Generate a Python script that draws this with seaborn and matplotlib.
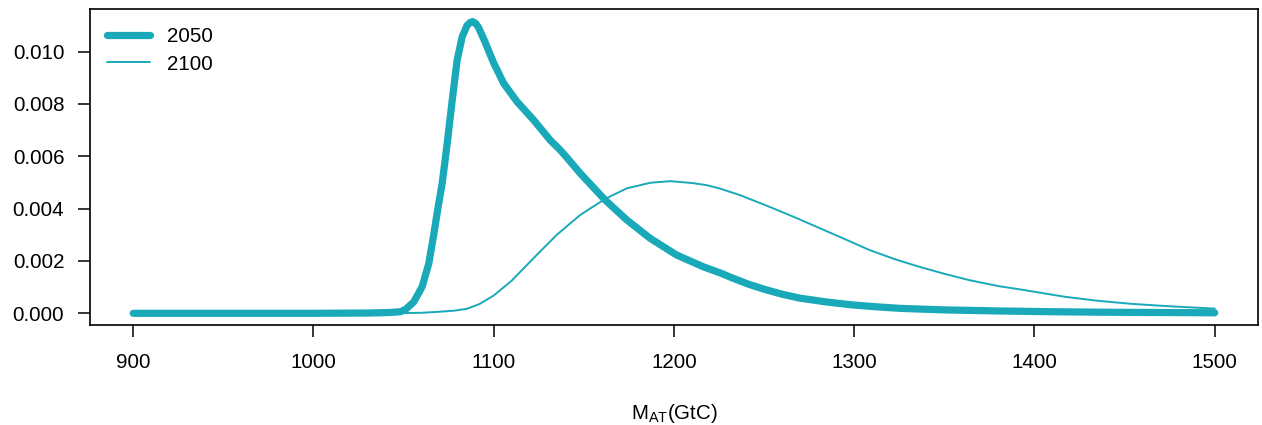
import numpy as np
import pandas as pd
import matplotlib
matplotlib.use("Agg")
import matplotlib.pyplot as plt
import seaborn as sns

# ---- data ----
x_2050 = [900, 950, 1000, 1030, 1042, 1048.3, 1051.1, 1055.7, 1060.3, 1064, 1066.7,
          1069, 1071.4, 1074.2, 1076.9, 1079.7, 1082.5, 1085.2, 1086.8, 1088.3, 1090,
          1091.6, 1095.3, 1099.9, 1105.5, 1112.9, 1122.1, 1131.3, 1136.9, 1140.6, 1148,
          1161.8, 1173.8, 1186.7, 1201.4, 1216.2, 1225.4, 1232.8, 1241, 1251, 1260,
          1269.7, 1285, 1299, 1312, 1325, 1350, 1380, 1410, 1440, 1470, 1500]
y_2050 = [0.0, 0.0, 0.0, 0.00001, 0.00003, 0.00006, 0.00015, 0.00044, 0.00102, 0.00191,
          0.00300, 0.00400, 0.00497, 0.00650, 0.00810, 0.00968, 0.01057, 0.01100,
          0.01111, 0.01115, 0.01108, 0.01092, 0.01035, 0.00958, 0.00879, 0.00809,
          0.00739, 0.00662, 0.00624, 0.00595, 0.00535, 0.00433, 0.00357, 0.00287,
          0.00223, 0.00178, 0.00155, 0.00134, 0.00112, 0.00090, 0.00073, 0.00058,
          0.00043, 0.00032, 0.00025, 0.00019, 0.00013, 0.00009, 0.00006, 0.00004,
          0.00003, 0.00002]

x_2100 = [900, 1000, 1040, 1060, 1070, 1078, 1085, 1092, 1100, 1110, 1122, 1135, 1148,
          1162, 1174, 1187, 1198, 1210, 1218, 1225.4, 1236.5, 1253, 1267, 1281, 1295,
          1308.4, 1322, 1336, 1350, 1363.7, 1380, 1391.4, 1417, 1435, 1454, 1477, 1500]
y_2100 = [0.0, 0.0, 0.0, 0.00002, 0.00006, 0.00010, 0.00017, 0.00035, 0.00068,
          0.00125, 0.00210, 0.00300, 0.00376, 0.00438, 0.00478, 0.00499, 0.00505,
          0.00498, 0.00490, 0.00477, 0.00452, 0.00407, 0.00367, 0.00325, 0.00283,
          0.00242, 0.00208, 0.00178, 0.00151, 0.00127, 0.00104, 0.00092, 0.00063,
          0.00048, 0.00036, 0.00026, 0.00018]

series_labels = ["2050", "2100"]
x_ticks = [900, 1000, 1100, 1200, 1300, 1400, 1500]
y_ticks = [0.000, 0.002, 0.004, 0.006, 0.008, 0.010]

color = "#19A9B8"
FS = 14.8

sns.set_theme(style="white")
plt.rcParams["font.family"] = ["Liberation Sans", "DejaVu Sans"]
plt.rcParams["mathtext.fontset"] = "custom"
plt.rcParams["mathtext.rm"] = "Liberation Sans"
plt.rcParams["mathtext.it"] = "Liberation Sans"

fig = plt.figure(figsize=(12.62, 4.25), dpi=100)
ax = fig.add_axes([0.0713, 0.2353, 0.9255, 0.7435])

df1 = pd.DataFrame({"x": x_2050, "y": y_2050})
df2 = pd.DataFrame({"x": x_2100, "y": y_2100})
sns.lineplot(data=df1, x="x", y="y", ax=ax, color=color, linewidth=5.2,
             solid_capstyle="round", solid_joinstyle="round", sort=False,
             estimator=None, label=series_labels[0])
sns.lineplot(data=df2, x="x", y="y", ax=ax, color=color, linewidth=1.4,
             solid_joinstyle="round", sort=False, estimator=None,
             label=series_labels[1])

ax.set_xlim(876, 1524)
ax.set_ylim(-0.000447, 0.01163)
ax.set_xticks(x_ticks)
ax.set_yticks(y_ticks)
ax.set_yticklabels([f"{v:.3f}" for v in y_ticks])
ax.set_xticklabels([str(v) for v in x_ticks])

for s in ax.spines.values():
    s.set_visible(True)
    s.set_color("black")
    s.set_linewidth(1.2)

ax.tick_params(axis="both", which="major", direction="out", length=8.5, width=1.1,
               color="black", labelsize=FS, labelcolor="black",
               bottom=True, left=True)
ax.tick_params(axis="x", pad=12)
ax.tick_params(axis="y", pad=10)

ax.set_xlabel(r"$\mathregular{M_{AT}}$(GtC)", fontsize=FS, labelpad=21, color="black")
ax.set_ylabel("")

leg = ax.legend(loc="upper left", frameon=False, fontsize=FS,
                handlelength=2.1, handletextpad=0.8, borderaxespad=0.0,
                borderpad=0.0, labelspacing=0.42,
                bbox_to_anchor=(0.0146, 0.943))
for txt in leg.get_texts():
    txt.set_color("black")

fig.savefig("out.png", dpi=100)
